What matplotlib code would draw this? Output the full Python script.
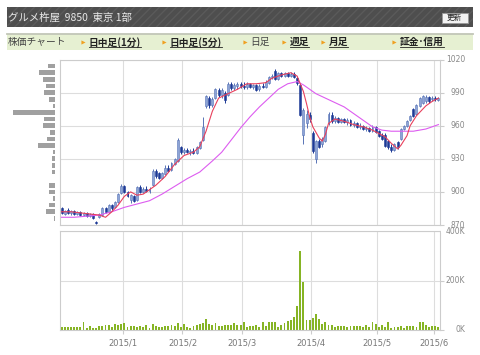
import matplotlib
matplotlib.use('Agg')
import numpy as np
import matplotlib.pyplot as plt
from matplotlib.patches import Rectangle
from matplotlib.transforms import blended_transform_factory

plt.rcParams['font.family'] = ['Noto Sans CJK JP', 'DejaVu Sans']

# trading days: Dec 2014 (20), Jan (19), Feb (19), Mar (22), Apr (21), May (18), Jun (2)
month_labels = ['2015/1', '2015/2', '2015/3', '2015/4', '2015/5', '2015/6']
month_start = [20, 39, 58, 80, 101, 119]

opens = [
    885, 880, 884, 881, 883, 880, 882, 879, 881, 878, 880, 873, 877, 879, 885, 882, 888, 886, 891, 899,
    905, 900, 893, 896, 893, 904, 900, 903, 901, 906, 919, 917, 913, 916, 922, 920, 925, 928, 941,
    936, 938, 936, 937, 935, 940, 947, 978, 985, 979, 985, 992, 988, 990, 988, 998, 994, 996, 998,
    996, 995, 998, 995, 997, 993, 996, 995, 999, 1004, 1010, 1002, 1008, 1005, 1008, 1005, 1007, 1003, 997, 952, 962, 970,
    953, 930, 946, 943, 946, 962, 970, 964, 967, 963, 966, 963, 965, 961, 962, 959, 960, 957, 958, 955, 959,
    955, 952, 952, 946, 941, 938, 945, 948, 957, 960, 965, 975, 971, 978, 981, 982, 986, 984,
    985, 983]
highs = [
    886, 884, 885, 884, 884, 883, 883, 882, 882, 881, 881, 874, 881, 886, 886, 889, 889, 892, 899, 907,
    906, 901, 898, 897, 905, 906, 904, 905, 904, 921, 921, 918, 918, 924, 924, 927, 931, 949, 942,
    940, 940, 939, 940, 942, 946, 968, 988, 987, 986, 994, 994, 994, 991, 1000, 1000, 999, 1000, 1000,
    1000, 1000, 999, 998, 998, 998, 999, 1001, 1005, 1007, 1011, 1009, 1009, 1009, 1009, 1009, 1009, 1004, 998, 976, 974, 972,
    955, 947, 948, 950, 960, 972, 972, 969, 968, 967, 967, 967, 966, 964, 963, 962, 961, 960, 959, 961, 960,
    956, 953, 953, 947, 943, 944, 946, 958, 961, 965, 970, 976, 980, 986, 988, 988, 987, 987,
    987, 986]
lows = [
    880, 879, 880, 879, 879, 879, 878, 878, 877, 877, 875, 871, 876, 878, 881, 881, 884, 885, 890, 898,
    899, 895, 890, 891, 892, 899, 899, 900, 899, 905, 913, 912, 912, 915, 918, 919, 924, 927, 934,
    934, 935, 933, 934, 934, 939, 946, 976, 976, 977, 984, 986, 985, 981, 987, 992, 992, 993, 994,
    993, 993, 994, 993, 991, 991, 994, 994, 998, 1002, 1001, 1001, 1004, 1004, 1004, 1004, 1003, 997, 969, 943, 958, 963,
    935, 926, 940, 941, 945, 961, 962, 962, 962, 962, 962, 961, 960, 959, 958, 957, 956, 955, 954, 954, 953,
    950, 947, 941, 939, 936, 937, 939, 947, 956, 959, 964, 968, 970, 977, 980, 981, 981, 982,
    982, 982]
closes = [
    881, 883, 881, 883, 880, 882, 879, 881, 878, 880, 876, 872, 880, 885, 882, 888, 885, 891, 898, 905,
    900, 896, 897, 892, 904, 900, 903, 901, 903, 919, 914, 913, 917, 922, 919, 926, 930, 947, 936,
    938, 936, 937, 935, 941, 945, 959, 987, 979, 984, 993, 988, 992, 983, 998, 994, 997, 998, 996,
    995, 998, 995, 997, 992, 996, 995, 1000, 1004, 1005, 1002, 1008, 1005, 1008, 1005, 1007, 1004, 999, 970, 974, 971, 966,
    937, 946, 941, 948, 959, 971, 964, 967, 963, 966, 963, 965, 961, 962, 959, 960, 957, 958, 955, 959, 954,
    951, 948, 942, 941, 938, 943, 941, 957, 960, 964, 969, 969, 979, 985, 987, 986, 982, 985,
    984, 985]

# volume, thousand shares
volume_k = [
    11, 11, 13, 12, 13, 12, 13, 34, 8, 17, 9, 9, 17, 15, 20, 19, 11, 25, 21, 24,
    30, 11, 16, 15, 12, 17, 11, 21, 9, 23, 15, 12, 13, 16, 16, 21, 17, 27, 11,
    24, 11, 8, 15, 20, 23, 28, 44, 23, 21, 30, 15, 17, 21, 21, 21, 30, 19, 21,
    32, 13, 16, 18, 22, 11, 31, 18, 31, 34, 34, 11, 22, 27, 35, 42, 53, 98, 318, 194, 40, 40,
    47, 65, 45, 26, 31, 22, 22, 13, 17, 17, 17, 13, 17, 17, 17, 17, 13, 22, 13, 31, 24,
    12, 22, 12, 32, 8, 12, 12, 17, 8, 17, 17, 17, 13, 31, 31, 22, 13, 17,
    17, 13]

# moving averages
ma5_day = [0, 3, 6, 9, 12, 14, 16, 18, 20, 22, 24, 26, 28, 30, 33, 36, 39, 42, 44, 46,
           48, 50, 53, 56, 59, 62, 65, 67, 70, 73, 75, 76, 77, 78, 79, 80, 82, 83, 84, 85,
           87, 90, 93, 96, 99, 101, 103, 105, 107, 108, 110, 111, 113, 116, 118, 120]
ma5_value = [882, 882, 881, 880, 879, 877, 882, 888, 896, 900, 897, 898, 902, 906, 914, 925, 933, 936, 941, 955,
             973, 985, 989, 993, 998, 998, 999, 1003, 1006, 1008, 1005, 998, 991, 980, 968, 959, 949, 946, 952, 962,
             966, 964, 961, 959, 956, 953, 950, 944, 939, 942, 951, 960, 969, 978, 982, 985]
ma25_day = [0, 4, 8, 12, 16, 20, 24, 28, 32, 36, 40, 44, 48, 51, 54, 57, 60, 63, 66, 69,
            72, 75, 77, 79, 81, 84, 87, 90, 93, 96, 99, 102, 105, 108, 112, 116, 120]
ma25_value = [877, 877, 878, 879, 882, 886, 889, 892, 898, 905, 912, 918, 928, 936, 947, 958, 968, 977, 985, 993,
              998, 1000, 997, 993, 989, 985, 981, 977, 971, 965, 959, 956, 955, 955, 955, 957, 961]

# volume by price band
vp_price = [1014, 1008, 1002, 996, 990, 984, 978, 972, 966, 960, 954, 948, 942, 936, 930, 924, 918,
            906, 900, 894, 888, 882, 876]
vp_volume = [73, 160, 117, 95, 107, 63, 23, 417, 107, 125, 50, 83, 167, 17, 28, 28, 28,
             57, 63, 23, 57, 93, 10]

price_ticks = [870, 900, 930, 960, 990, 1020]
vol_ticks = [0, 200, 400]

W, H = 480, 355
fig = plt.figure(figsize=(W / 100, H / 100), dpi=100)


def box(x0, y0, x1, y1):
    return [x0 / W, 1 - y1 / H, (x1 - x0) / W, (y1 - y0) / H]


# page furniture in pixel coordinates
ov = fig.add_axes([0, 0, 1, 1])
ov.set_xlim(0, W)
ov.set_ylim(H, 0)
ov.axis('off')

ov.add_patch(Rectangle((7, 7), 466, 20, facecolor='#4e4e4e', edgecolor='#5a5a5a', hatch='////', lw=0))
ov.text(8, 17.5, 'グルメ杵屋  9850  東京 1部', color='#e8e8e8', fontsize=7.5, va='center')
ov.add_patch(Rectangle((441.5, 12.5), 26, 10.5, facecolor='#f3f3f3', edgecolor='#9a9a9a', lw=0.6))
ov.text(454.5, 17.8, '更新', fontsize=5.5, color='#222222', ha='center', va='center')

ov.add_patch(Rectangle((7, 34), 466, 16, facecolor='#e6f0d2', lw=0))
ov.plot([7, 473], [34, 34], color='#c2c6b8', lw=1.3)

menu = [('株価チャート', 7.5, False, False), ('日中足(1分)', 88.5, True, True),
        ('日中足(5分)', 169.5, True, True), ('日足', 250.5, False, True),
        ('週足', 289.5, True, True), ('月足', 328.5, True, True), ('証金･信用', 400, True, True)]
menu_texts = []
for label, x0, link, arrow in menu:
    t = ov.text(x0, 42.3, label, fontsize=7, va='center', color='#222222' if link else '#444444',
                fontweight='bold' if link else 'normal')
    if arrow:
        ov.plot(x0 - 6, 42.3, marker='>', ms=3, color='#f0a020', mec='none')
    menu_texts.append((t, link))

# main price chart
x = np.arange(len(closes))
o = np.array(opens)
c = np.array(closes)
up = c >= o
face = np.where(up, '#8da5d6', '#1d3a96')
edge = np.where(up, '#5873b6', '#1d3a96')

ax = fig.add_axes(box(60, 59.5, 440, 225))
ax.vlines(x, lows, highs, colors=edge, lw=0.7, zorder=2)
ax.bar(x, np.maximum(np.abs(c - o), 0.6), bottom=np.minimum(o, c), width=0.62,
       color=face, edgecolor=edge, lw=0.4, zorder=2)
ax.plot(ma25_day, ma25_value, color='#dd5cf0', lw=0.8, zorder=3)
ax.plot(ma5_day, ma5_value, color='#e8405c', lw=0.8, zorder=3)
ax.set_xlim(-0.5, len(closes) - 0.5)
ax.set_ylim(870, 1020)
ax.set_xticks([m - 0.5 for m in month_start])
ax.set_yticks(price_ticks)
ax.grid(color='#dddddd', lw=0.8)
ax.tick_params(bottom=False, labelbottom=False, left=False, labelleft=False,
               right=True, length=3, color='#cccccc')
for s in ax.spines.values():
    s.set_color('#cccccc')
    s.set_linewidth(0.8)
tr = blended_transform_factory(ov.transData, ax.transData)
for v in price_ticks:
    ax.text(465, v, str(v), transform=tr, ha='right', va='center', fontsize=5.5,
            color='#888888', family='DejaVu Sans')

# volume by price histogram
hx = fig.add_axes(box(0, 59.5, 55, 225))
hx.barh(vp_price, vp_volume, height=4.2, color='#a0a0a0')
hx.set_xlim(550, 0)
hx.set_ylim(870, 1020)
hx.axis('off')

# volume chart
vol = fig.add_axes(box(60, 231, 440, 330))
vol.bar(x, volume_k, width=0.6, color='#86b424', zorder=2)
vol.set_xlim(-0.5, len(closes) - 0.5)
vol.set_ylim(0, 400)
vol.set_yticks(vol_ticks)
vol.set_xticks([m - 0.5 for m in month_start], labels=month_labels)
vol.grid(color='#dddddd', lw=0.8)
vol.tick_params(axis='y', left=False, labelleft=False, right=True, length=3, color='#cccccc')
vol.tick_params(axis='x', length=3, color='#cccccc', labelsize=6, labelcolor='#777777', pad=3)
for lab in vol.get_xticklabels():
    lab.set_family('DejaVu Sans')
for s in vol.spines.values():
    s.set_color('#cccccc')
    s.set_linewidth(0.8)
vol.add_patch(Rectangle((441, 227.8), 30, 5, transform=ov.transData, facecolor='white',
                        lw=0, clip_on=False, zorder=5))
trv = blended_transform_factory(ov.transData, vol.transData)
for v in vol_ticks:
    vol.text(465, v, f'{v}K', transform=trv, ha='right', va='center', fontsize=5.5,
             color='#888888', family='DejaVu Sans', zorder=6)

# underline the link items of the menu
fig.canvas.draw()
inv = ov.transData.inverted()
for t, link in menu_texts:
    if link:
        bb = t.get_window_extent()
        (xa, _), (xb, _) = inv.transform([(bb.x0, 0), (bb.x1, 0)])
        ov.plot([xa, xb], [47.3, 47.3], color='#222222', lw=0.6)

fig.savefig('out.png', dpi=100)
